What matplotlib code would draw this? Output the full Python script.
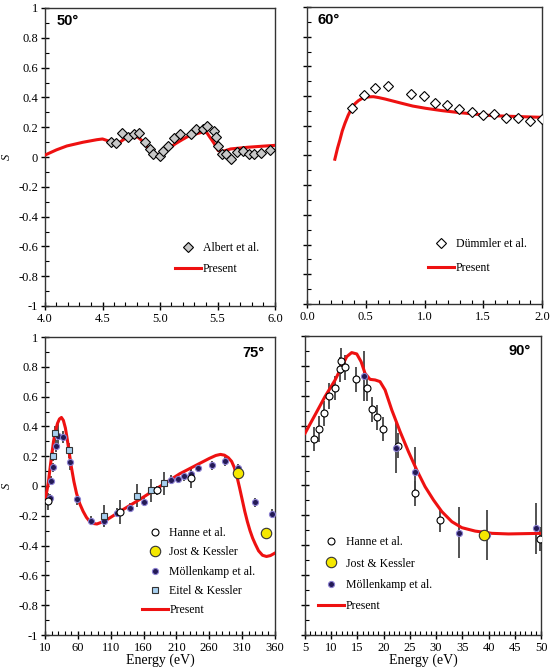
import numpy as np
import matplotlib.pyplot as plt
from matplotlib.ticker import MultipleLocator, FixedLocator, FuncFormatter

plt.rcParams['font.family'] = ['Liberation Serif', 'DejaVu Serif']

RED = '#ee1111'

# ---- 50 deg ----
albert_e = [4.57, 4.62, 4.666, 4.72, 4.77, 4.82, 4.87, 4.917, 4.94, 5.0, 5.026, 5.07,
            5.12, 5.17, 5.27, 5.31, 5.37, 5.41, 5.47, 5.49, 5.506, 5.543, 5.574, 5.62,
            5.67, 5.72, 5.77, 5.82, 5.877, 5.96]
albert_s = [0.103, 0.092, 0.159, 0.137, 0.152, 0.159, 0.103, 0.054, 0.02, 0.009, 0.043, 0.074,
            0.126, 0.155, 0.155, 0.188, 0.188, 0.209, 0.175, 0.132, 0.076, 0.022, 0.022, -0.011,
            0.031, 0.04, 0.022, 0.018, 0.027, 0.045]
p50_e = [4.0, 4.1, 4.19, 4.33, 4.45, 4.5, 4.55, 4.586, 4.63, 4.686, 4.73, 4.77, 4.81, 4.85,
         4.886, 4.92, 4.957, 5.014, 5.07, 5.13, 5.19, 5.24, 5.33, 5.386, 5.41, 5.43, 5.45, 5.47,
         5.49, 5.506, 5.54, 5.614, 5.757, 5.9, 6.0]
p50_s = [0.013, 0.048, 0.074, 0.099, 0.116, 0.121, 0.108, 0.092, 0.087, 0.119, 0.132, 0.141,
         0.132, 0.105, 0.07, 0.042, 0.02, 0.013, 0.05, 0.087, 0.115, 0.137, 0.159, 0.17, 0.16,
         0.137, 0.115, 0.092, 0.065, 0.043, 0.036, 0.054, 0.065, 0.073, 0.078]

# ---- 60 deg ----
dummler_e = [0.386, 0.489, 0.58, 0.689, 0.886, 0.994, 1.089, 1.194, 1.297, 1.4, 1.494,
             1.594, 1.694, 1.794, 1.9, 2.0]
dummler_s = [0.318, 0.407, 0.452, 0.468, 0.416, 0.403, 0.351, 0.34, 0.315, 0.293, 0.275,
             0.277, 0.255, 0.25, 0.235, 0.248]
p60_e = [0.237, 0.26, 0.28, 0.3, 0.323, 0.35, 0.38, 0.41, 0.437, 0.465, 0.494, 0.53, 0.566,
         0.61, 0.666, 0.74, 0.809, 0.9, 1.009, 1.15, 1.294, 1.45, 1.58, 1.8, 2.0]
p60_s = [-0.025, 0.05, 0.105, 0.165, 0.217, 0.27, 0.318, 0.35, 0.369, 0.383, 0.391, 0.395,
         0.396, 0.39, 0.38, 0.365, 0.351, 0.333, 0.318, 0.302, 0.289, 0.277, 0.268, 0.262, 0.257]

# ---- 75 deg ----
hanne75_e = [14, 124, 180, 232]
hanne75_s = [-0.104, -0.172, -0.03, 0.057]
hanne75_err = [0.06, 0.08, 0.03, 0.07]
jost75_e = [304, 346]
jost75_s = [0.086, -0.313]
moll75_e = [17.6, 19, 21.7, 26.7, 30, 37, 48, 58, 79.5, 100, 119, 140, 161, 180, 202, 212,
            222, 232, 243, 264, 284, 304, 330, 355]
moll75_s = [-0.082, 0.034, 0.127, 0.27, 0.337, 0.328, 0.16, -0.088, -0.234, -0.234, -0.178,
            -0.145, -0.106, -0.03, 0.041, 0.05, 0.064, 0.08, 0.124, 0.14, 0.165, 0.12, -0.108,
            -0.187]
moll75_err = [0.03, 0.03, 0.03, 0.04, 0.08, 0.04, 0.05, 0.04, 0.03, 0.04, 0.03, 0.03, 0.03,
              0.03, 0.03, 0.03, 0.03, 0.04, 0.03, 0.03, 0.03, 0.03, 0.03, 0.03]
eitel_e = [25.2, 21.7, 46.5, 100, 150.5, 171, 191.6]
eitel_s = [0.355, 0.198, 0.239, -0.2, -0.064, -0.03, 0.017]
eitel_err = [0.05, 0.03, 0.05, 0.07, 0.08, 0.08, 0.08]
p75_e = [10, 13, 15, 18, 20, 23, 26, 29, 32, 35, 38, 41, 44, 47, 50, 54, 58, 63, 68, 73, 78,
         84, 89, 95, 104, 124, 155, 185, 215, 246, 260, 270, 277, 283, 289, 294, 298, 302,
         306, 310, 314, 318, 322, 326, 330, 335, 341, 347, 353, 360]
p75_s = [-0.093, -0.03, 0.02, 0.13, 0.2, 0.3, 0.37, 0.42, 0.45, 0.46, 0.44, 0.39, 0.31, 0.22,
         0.13, 0.03, -0.05, -0.12, -0.17, -0.21, -0.238, -0.252, -0.255, -0.245, -0.227, -0.171,
         -0.088, -0.003, 0.082, 0.153, 0.185, 0.205, 0.212, 0.207, 0.19, 0.165, 0.125, 0.065,
         -0.01, -0.09, -0.17, -0.24, -0.3, -0.35, -0.39, -0.435, -0.465, -0.473, -0.467, -0.45]

# ---- 90 deg ----
hanne90_e = [6.7, 7.67, 8.69, 9.65, 10.73, 11.68, 11.8, 12.64, 14.74, 16.78, 17.86, 18.8,
             19.83, 22.82, 25.88, 30.78, 49.75]
hanne90_s = [0.311, 0.378, 0.483, 0.599, 0.65, 0.777, 0.832, 0.79, 0.71, 0.65, 0.51, 0.456,
             0.376, 0.267, -0.052, -0.231, -0.358]
hanne90_err = [0.08, 0.085, 0.085, 0.085, 0.08, 0.085, 0.085, 0.085, 0.085, 0.085, 0.085,
               0.085, 0.08, 0.085, 0.085, 0.08, 0.08]
jost90_e = [39.2]
jost90_s = [-0.331]
moll90_e = [16.33, 22.31, 25.88, 34.28, 39.75, 49.1]
moll90_s = [0.732, 0.253, 0.088, -0.315, -0.331, -0.287]
moll90_err = [0.17, 0.17, 0.17, 0.17, 0.17, 0.17]
p90_e = [5, 6.9, 8.8, 10.73, 12, 12.96, 13.9, 14.87, 15.7, 16.45, 17.4, 18.37, 19.3, 20.27,
         21.55, 23.14, 24.73, 26.3, 27.9, 29.5, 31.1, 33, 34.9, 37.46, 40.65, 43.8, 50]
p90_s = [0.349, 0.471, 0.594, 0.705, 0.795, 0.862, 0.889, 0.88, 0.828, 0.75, 0.71, 0.706,
         0.695, 0.639, 0.505, 0.36, 0.226, 0.104, -0.008, -0.097, -0.175, -0.242, -0.282,
         -0.305, -0.32, -0.324, -0.32]

W, H = 550, 671
fig = plt.figure(figsize=(W / 100, H / 100), dpi=100)


def make_ax(l, r, t, b):
    return fig.add_axes([l / W, 1 - b / H, (r - l) / W, (b - t) / H])


ax1 = make_ax(45, 275, 8, 306)
ax2 = make_ax(307, 542, 7, 304)
ax3 = make_ax(45, 275, 337, 635)
ax4 = make_ax(305, 541, 336, 635)

err_kw = dict(fmt='none', ecolor='#444444', elinewidth=1.3, capsize=0, zorder=2)
moll_kw = dict(marker='o', ms=4.4, mfc='#231a55', mec='#8a7fd0', mew=0.8, linestyle='none')
hanne_kw = dict(marker='o', ms=5, mfc='white', mec='black', mew=0.8, linestyle='none')
jost_kw = dict(marker='o', ms=7.5, mfc='#f5e800', mec='#333333', mew=0.8, linestyle='none')
eitel_kw = dict(marker='s', ms=4.2, mfc='#a8d0f0', mec='#333333', mew=0.8, linestyle='none')
diam_kw = dict(marker='D', ms=4.8, mfc='#c8c8c8', mec='black', mew=0.8, linestyle='none')


def points(ax, e, s, err, label, kw, z=4):
    if err is not None:
        ax.errorbar(e, s, yerr=err, **err_kw)
    ax.plot(e, s, zorder=z, label=label, **kw)


# 50
ax1.plot(p50_e, p50_s, color=RED, lw=2.2, zorder=3, label='Present')
points(ax1, albert_e, albert_s, None, 'Albert et al.', diam_kw)

# 60
ax2.plot(p60_e, p60_s, color=RED, lw=2.2, zorder=3, label='Present')
d = dict(diam_kw)
d['mfc'] = 'white'
points(ax2, dummler_e, dummler_s, None, 'Dümmler et al.', d)

# 75
ax3.plot(p75_e, p75_s, color=RED, lw=2.2, zorder=3, label='Present')
points(ax3, moll75_e, moll75_s, moll75_err, 'Möllenkamp et al.', moll_kw)
points(ax3, eitel_e, eitel_s, eitel_err, 'Eitel & Kessler', eitel_kw)
points(ax3, hanne75_e, hanne75_s, hanne75_err, 'Hanne et al.', hanne_kw)
points(ax3, jost75_e, jost75_s, None, 'Jost & Kessler', jost_kw, z=5)

# 90
ax4.plot(p90_e, p90_s, color=RED, lw=2.2, zorder=3, label='Present')
points(ax4, hanne90_e, hanne90_s, hanne90_err, 'Hanne et al.', hanne_kw)
points(ax4, jost90_e, jost90_s, None, 'Jost & Kessler', jost_kw, z=5)
points(ax4, moll90_e, moll90_s, moll90_err, 'Möllenkamp et al.', moll_kw)

fmt1 = FuncFormatter(lambda v, p: '%.1f' % v)
fmt0 = FuncFormatter(lambda v, p: '%d' % round(v))
fmty = FuncFormatter(lambda v, p: '%g' % round(v, 1))

limits = [(ax1, 4.0, 6.0, 0.5, 0.1, fmt1), (ax2, 0.0, 2.0, 0.5, 0.1, fmt1),
          (ax3, 10, 360, 50, 10, fmt0), (ax4, 5, 50, 5, 1, fmt0)]
for ax, x0, x1, maj, mnr, fmt in limits:
    ax.set_xlim(x0, x1)
    ax.set_ylim(-1, 1)
    ax.xaxis.set_major_locator(FixedLocator(np.arange(x0, x1 + maj / 2, maj)))
    ax.xaxis.set_minor_locator(FixedLocator(np.arange(x0, x1 + mnr / 2, mnr)))
    ax.xaxis.set_major_formatter(fmt)
    ax.yaxis.set_major_locator(MultipleLocator(0.2))
    ax.yaxis.set_minor_locator(MultipleLocator(0.1))
    ax.yaxis.set_major_formatter(fmty)
    ax.tick_params(which='major', direction='inout', length=6, width=1, labelsize=9, pad=2)
    ax.tick_params(which='minor', direction='in', length=3, width=0.8)
    for sp in ax.spines.values():
        sp.set_linewidth(1.0)
        sp.set_color('#333333')

for ax in (ax2, ax4):
    ax.tick_params(labelleft=False)

for ax in (ax1, ax3):
    ax.set_ylabel('S', fontstyle='italic', fontsize=9, labelpad=4)
for ax in (ax3, ax4):
    ax.set_xlabel('Energy (eV)', fontsize=10, labelpad=0)

lab_kw = dict(fontsize=10.5, fontweight='bold', family=['Liberation Sans', 'DejaVu Sans'],
              va='center')
ax1.text(0.05, 0.955, '50°', transform=ax1.transAxes, ha='left', **lab_kw)
ax2.text(0.045, 0.955, '60°', transform=ax2.transAxes, ha='left', **lab_kw)
ax3.text(0.955, 0.945, '75°', transform=ax3.transAxes, ha='right', **lab_kw)
ax4.text(0.955, 0.95, '90°', transform=ax4.transAxes, ha='right', **lab_kw)

leg_kw = dict(frameon=False, fontsize=8.5, handlelength=2.2, handletextpad=0.15,
              borderpad=0, borderaxespad=0, loc='upper left')


def put_legend(ax, order, fx, fy, sp):
    h, l = ax.get_legend_handles_labels()
    pairs = dict(zip(l, h))
    ax.legend([pairs[k] for k in order], order, bbox_to_anchor=(fx, fy), labelspacing=sp,
              **leg_kw)


put_legend(ax1, ['Albert et al.', 'Present'], 0.565, 0.215, 0.75)
put_legend(ax2, ['Dümmler et al.', 'Present'], 0.515, 0.222, 1.05)
put_legend(ax3, ['Hanne et al.', 'Jost & Kessler', 'Möllenkamp et al.', 'Eitel & Kessler', 'Present'],
           0.42, 0.362, 0.62)
put_legend(ax4, ['Hanne et al.', 'Jost & Kessler', 'Möllenkamp et al.', 'Present'], 0.055, 0.33, 0.78)

fig.savefig('out.png', dpi=100)
